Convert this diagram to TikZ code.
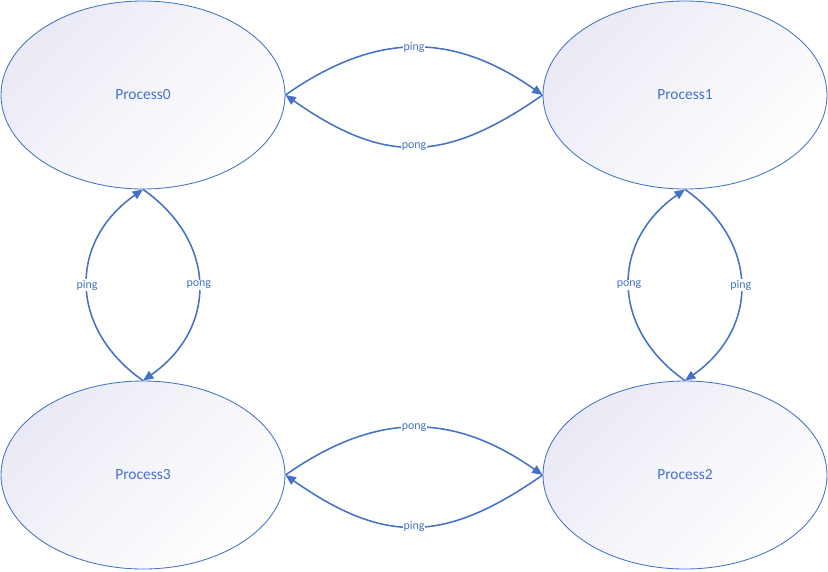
\documentclass[tikz,border=0pt]{standalone}
\usepackage{fontspec}
\setmainfont{Carlito}
\usepackage{tikz}
\usetikzlibrary{shapes,arrows.meta}

\definecolor{msgblue}{RGB}{68,114,196}
\definecolor{procfill}{RGB}{234,234,246}

\tikzset{
  proc/.style={draw=msgblue, line width=0.6pt, ellipse, minimum width=7.1cm,
    minimum height=4.7cm, inner sep=0pt, text=msgblue, font=\fontsize{11}{13}\selectfont,
    top color=procfill, bottom color=white, shading angle=45},
  msg/.style={draw=msgblue, line width=1.1pt, -{Triangle[length=2.6mm,width=2.2mm]}},
  lbl/.style={fill=white, inner sep=0.5pt, text=msgblue, font=\fontsize{8.5}{10}\selectfont}
}

\begin{document}
\begin{tikzpicture}[node distance=135.5mm]

  \useasboundingbox (-3.575,2.375) rectangle (17.125,-11.9);

  \node [proc] (p0) at (0,0) {Process0};
  \node [proc] (p1) [right of=p0] {Process1};
  \node [proc, node distance=95mm] (p3) [below of=p0] {Process3};
  \node [proc] (p2) [right of=p3] {Process2};

  \path (p0.east) edge [msg, bend left=35, looseness=1.1] node[lbl] {ping} (p1.west);
  \path (p1.west) edge [msg, bend left=35, looseness=1.2] node[lbl] {pong} (p0.east);
  \path (p3.north) edge [msg, bend left=55, looseness=1.22] node[lbl] {ping} (p0.south);
  \path (p0.south) edge [msg, bend left=55, looseness=1.22] node[lbl] {pong} (p3.north);
  \path (p2.north) edge [msg, bend left=55, looseness=1.22] node[lbl] {pong} (p1.south);
  \path (p1.south) edge [msg, bend left=55, looseness=1.22] node[lbl] {ping} (p2.north);
  \path (p3.east) edge [msg, bend left=35, looseness=1.1] node[lbl] {pong} (p2.west);
  \path (p2.west) edge [msg, bend left=35, looseness=1.2] node[lbl] {ping} (p3.east);
\end{tikzpicture}
\end{document}
